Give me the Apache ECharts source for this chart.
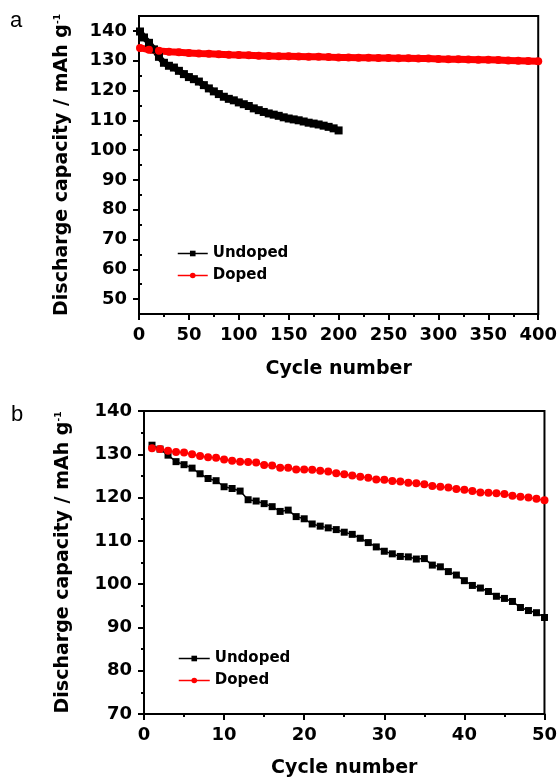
<!DOCTYPE html>
<html>
<head>
<meta charset="utf-8">
<script src="https://cdn.jsdelivr.net/npm/echarts@6/dist/echarts.min.js"></script>
<style>
    html, body { margin: 0; padding: 0; background: #fff; }
    #chart { width: 560px; height: 780px; }
</style>
</head>
<body>
<div id="chart"></div>
<script>
var cyclesUndopedA = [1, 5, 10, 15, 20, 25, 30, 35, 40, 45, 50, 55, 60, 65, 70, 75, 80, 85, 90, 95, 100,
    105, 110, 115, 120, 125, 130, 135, 140, 145, 150, 155, 160, 165, 170, 175, 180, 185, 190, 195, 200];
var undopedA = [139.8, 137.8, 136.0, 133.8, 131.3, 129.3, 128.3, 127.7, 126.6, 125.5, 124.5, 123.8, 123.0,
    121.8, 120.7, 119.7, 118.8, 117.9, 117.2, 116.7, 116.0, 115.4, 114.8, 114.0, 113.4, 112.8, 112.3, 111.9,
    111.5, 111.0, 110.6, 110.3, 110.0, 109.6, 109.2, 108.9, 108.6, 108.2, 107.8, 107.3, 106.6];
var cyclesDopedA = [1, 10, 20, 30, 40, 50, 60, 70, 80, 90, 100, 110, 120, 130, 140, 150, 160, 170, 180, 190, 200,
    210, 220, 230, 240, 250, 260, 270, 280, 290, 300, 310, 320, 330, 340, 350, 360, 370, 380, 390, 400];
var dopedA = [134.3, 133.7, 133.3, 133.0, 132.8, 132.6, 132.4, 132.3, 132.2, 132.0, 131.9, 131.8, 131.7, 131.6,
    131.5, 131.5, 131.4, 131.3, 131.3, 131.2, 131.1, 131.1, 131.0, 131.0, 130.9, 130.9, 130.8, 130.8, 130.7,
    130.7, 130.6, 130.5, 130.5, 130.4, 130.3, 130.3, 130.2, 130.1, 130.0, 129.9, 129.8];

// panel b: first 50 cycles
var cyclesB = [1, 2, 3, 4, 5, 6, 7, 8, 9, 10, 11, 12, 13, 14, 15, 16, 17, 18, 19, 20, 21, 22, 23, 24, 25,
    26, 27, 28, 29, 30, 31, 32, 33, 34, 35, 36, 37, 38, 39, 40, 41, 42, 43, 44, 45, 46, 47, 48, 49, 50];
var undopedB = [132.1, 131.2, 129.8, 128.3, 127.6, 126.8, 125.5, 124.4, 123.9, 122.5, 122.1, 121.5, 119.5,
    119.2, 118.6, 117.9, 116.8, 117.1, 115.6, 115.1, 113.9, 113.4, 113.0, 112.6, 112.0, 111.5, 110.6, 109.6,
    108.6, 107.6, 107.0, 106.4, 106.3, 105.8, 105.9, 104.4, 104.0, 102.9, 102.1, 100.8, 99.7, 99.1, 98.3,
    97.2, 96.7, 96.0, 94.6, 93.9, 93.4, 92.3];
var dopedB = [131.4, 131.2, 130.8, 130.5, 130.4, 130.0, 129.6, 129.3, 129.2, 128.8, 128.5, 128.3, 128.2,
    128.1, 127.5, 127.4, 126.9, 126.9, 126.5, 126.5, 126.4, 126.2, 126.0, 125.6, 125.4, 125.1, 124.8, 124.6,
    124.2, 124.1, 123.8, 123.7, 123.4, 123.3, 123.1, 122.7, 122.5, 122.3, 122.0, 121.8, 121.5, 121.2, 121.1,
    121.0, 120.8, 120.4, 120.2, 120.0, 119.7, 119.4];

// tick labels of panel a y axis (range 45..145)
var yLabelsA = [50, 60, 70, 80, 90, 100, 110, 120, 130, 140];
var yMinorA = [45, 55, 65, 75, 85, 95, 105, 115, 125, 135, 145];

var FONT = 'DejaVu Sans';

var pairs = function (xs, ys) {
    return xs.map(function (x, i) { return [x, ys[i]]; });
};

var labelStyle = {
    color: '#000',
    fontFamily: FONT,
    fontWeight: 'bold',
    fontSize: 18
};

var yName = '{t|Discharge capacity / mAh g}{s|-1}';
var yNameStyle = {
    color: '#000',
    rich: {
        t: { fontFamily: FONT, fontWeight: 'bold', fontSize: 19, color: '#000' },
        s: { fontFamily: FONT, fontWeight: 'bold', fontSize: 9, color: '#000', verticalAlign: 'top' }
    }
};

var axisLine = { show: true, onZero: false, lineStyle: { color: '#000', width: 2 } };

var option = {
    animation: false,
    backgroundColor: '#fff',
    grid: [
        { left: 139, top: 16, width: 402, height: 298, show: true, borderColor: '#000', borderWidth: 2 },
        { left: 144, top: 411, width: 407, height: 303, show: true, borderColor: '#000', borderWidth: 2 }
    ],
    xAxis: [
        {
            gridIndex: 0, type: 'value', min: 0, max: 400, interval: 50,
            name: 'Cycle number', nameLocation: 'middle', nameGap: 46,
            nameTextStyle: { color: '#000', fontFamily: FONT, fontWeight: 'bold', fontSize: 19 },
            axisLine: axisLine,
            axisTick: { length: 6, lineStyle: { width: 2 } },
            minorTick: { show: true, splitNumber: 2, length: 3, lineStyle: { color: '#000', width: 2 } },
            axisLabel: Object.assign({ margin: 12 }, labelStyle),
            splitLine: { show: false }
        },
        {
            gridIndex: 1, type: 'value', min: 0, max: 50, interval: 10,
            name: 'Cycle number', nameLocation: 'middle', nameGap: 45,
            nameTextStyle: { color: '#000', fontFamily: FONT, fontWeight: 'bold', fontSize: 19 },
            axisLine: axisLine,
            axisTick: { length: 6, lineStyle: { width: 2 } },
            minorTick: { show: true, splitNumber: 2, length: 3, lineStyle: { color: '#000', width: 2 } },
            axisLabel: Object.assign({ margin: 12 }, labelStyle),
            splitLine: { show: false }
        }
    ],
    yAxis: [
        {
            gridIndex: 0, type: 'value', min: 45, max: 145,
            name: yName, nameLocation: 'middle', nameGap: 67, nameRotate: 90,
            nameTextStyle: yNameStyle,
            axisLine: axisLine,
            axisTick: { length: 6, lineStyle: { width: 2 }, customValues: yLabelsA },
            axisLabel: Object.assign({ margin: 12, customValues: yLabelsA }, labelStyle),
            splitLine: { show: false }
        },
        {
            // short ticks of panel a
            gridIndex: 0, type: 'value', min: 45, max: 145,
            axisLine: { show: false },
            axisTick: { show: true, length: 3, lineStyle: { color: '#000', width: 2 }, customValues: yMinorA },
            axisLabel: { show: false },
            splitLine: { show: false }
        },
        {
            gridIndex: 1, type: 'value', min: 70, max: 140, interval: 10,
            name: yName, nameLocation: 'middle', nameGap: 71, nameRotate: 90,
            nameTextStyle: yNameStyle,
            axisLine: axisLine,
            axisTick: { length: 6, lineStyle: { width: 2 } },
            minorTick: { show: true, splitNumber: 2, length: 3, lineStyle: { color: '#000', width: 2 } },
            axisLabel: Object.assign({ margin: 12 }, labelStyle),
            splitLine: { show: false }
        }
    ],
    legend: [
        {
            left: 172, top: 241, orient: 'vertical', itemWidth: 30, itemHeight: 7, itemGap: 7,
            data: ['Undoped', 'Doped'],
            lineStyle: { width: 1.5 },
            textStyle: { color: '#000', fontFamily: FONT, fontWeight: 'bold', fontSize: 15 }
        },
        {
            left: 173, top: 646, orient: 'vertical', itemWidth: 31, itemHeight: 7, itemGap: 7,
            data: ['Undoped', 'Doped'],
            lineStyle: { width: 1.5 },
            textStyle: { color: '#000', fontFamily: FONT, fontWeight: 'bold', fontSize: 15 }
        }
    ],
    graphic: [
        { type: 'text', left: 10, top: 10, style: { text: 'a', fontFamily: 'Liberation Sans', fontSize: 22, fill: '#000' } },
        { type: 'text', left: 11, top: 404, style: { text: 'b', fontFamily: 'Liberation Sans', fontSize: 22, fill: '#000' } }
    ],
    series: [
        {
            name: 'Undoped', type: 'line', xAxisIndex: 0, yAxisIndex: 0,
            data: pairs(cyclesUndopedA, undopedA),
            symbol: 'rect', symbolSize: 8, showAllSymbol: true,
            itemStyle: { color: '#000' },
            lineStyle: { color: '#000', width: 6 }
        },
        {
            name: 'Doped', type: 'line', xAxisIndex: 0, yAxisIndex: 0,
            data: pairs(cyclesDopedA, dopedA),
            symbol: 'circle', symbolSize: 8, showAllSymbol: true,
            itemStyle: { color: '#ff0000' },
            lineStyle: { color: '#ff0000', width: 7 }
        },
        {
            name: 'Undoped', type: 'line', xAxisIndex: 1, yAxisIndex: 2,
            data: pairs(cyclesB, undopedB),
            symbol: 'rect', symbolSize: 7,
            itemStyle: { color: '#000' },
            lineStyle: { color: '#000', width: 1.5 }
        },
        {
            name: 'Doped', type: 'line', xAxisIndex: 1, yAxisIndex: 2,
            data: pairs(cyclesB, dopedB),
            symbol: 'circle', symbolSize: 8,
            itemStyle: { color: '#ff0000' },
            lineStyle: { color: '#ff0000', width: 1.5 }
        }
    ]
};

var chart = echarts.init(document.getElementById('chart'));
chart.setOption(option);
</script>
</body>
</html>
